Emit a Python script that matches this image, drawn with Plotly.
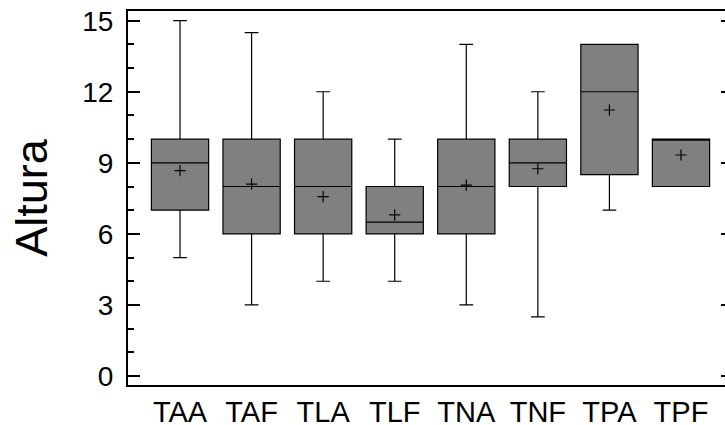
import plotly.graph_objects as go

# Summary statistics of "Altura" for each treatment group
groups = ["TAA", "TAF", "TLA", "TLF", "TNA", "TNF", "TPA", "TPF"]
lower_whisker = [5, 3, 4, 4, 3, 2.5, 7, 8]
q1 = [7, 6, 6, 6, 6, 8, 8.5, 8]
median = [9, 8, 8, 6.5, 8, 9, 12, 10]
q3 = [10, 10, 10, 8, 10, 10, 14, 10]
upper_whisker = [15, 14.5, 12, 10, 14, 12, 14, 10]
mean = [8.67, 8.10, 7.57, 6.80, 8.06, 8.75, 11.23, 9.33]

y_ticks = [0, 3, 6, 9, 12, 15]

font_family = "Liberation Sans, Arial, sans-serif"

fig = go.Figure()

fig.add_trace(go.Box(
    x=groups,
    q1=q1,
    median=median,
    q3=q3,
    lowerfence=lower_whisker,
    upperfence=upper_whisker,
    boxpoints=False,
    width=0.8,
    whiskerwidth=0.24,
    fillcolor="#808080",
    line=dict(color="#000000", width=1.2),
    showlegend=False,
    hoverinfo="skip",
))

# Means shown as small crosses
fig.add_trace(go.Scatter(
    x=groups,
    y=mean,
    mode="markers",
    marker=dict(symbol="cross-thin", size=8, line=dict(color="#000000", width=1.2)),
    showlegend=False,
    hoverinfo="skip",
))

# Secondary axis carrying the short tick marks on the right side
fig.add_trace(go.Scatter(x=[groups[0]], y=[None], yaxis="y2", showlegend=False,
                         hoverinfo="skip"))

y_range = [-0.38, 15.41]

fig.update_layout(
    width=725,
    height=425,
    margin=dict(l=128, r=0, t=11, b=40),
    paper_bgcolor="white",
    plot_bgcolor="white",
    font=dict(family=font_family, color="#000000"),
    xaxis=dict(
        type="category",
        range=[-0.727, 7.615],
        automargin=False,
        showgrid=False,
        zeroline=False,
        showline=True,
        linecolor="#000000",
        linewidth=2,
        mirror=True,
        ticks="",
        tickfont=dict(size=29, family=font_family),
        ticklabelstandoff=0,
    ),
    yaxis=dict(
        range=y_range,
        tickvals=y_ticks,
        automargin=False,
        showgrid=False,
        zeroline=False,
        showline=True,
        linecolor="#000000",
        linewidth=2,
        ticks="inside",
        ticklen=12,
        tickwidth=1.5,
        tickcolor="#000000",
        minor=dict(dtick=1, tick0=0, ticks="inside", ticklen=6, tickwidth=1.5,
                   tickcolor="#000000", showgrid=False),
        tickfont=dict(size=28, family=font_family),
        ticklabelstandoff=7,
        title=dict(text="Altura", font=dict(size=45, family=font_family), standoff=20),
    ),
    yaxis2=dict(
        overlaying="y",
        side="right",
        range=y_range,
        tickvals=y_ticks,
        automargin=False,
        showgrid=False,
        zeroline=False,
        showline=False,
        showticklabels=False,
        ticks="inside",
        ticklen=4,
        tickwidth=1.5,
        tickcolor="#000000",
    ),
)

fig.write_html("out.html")
